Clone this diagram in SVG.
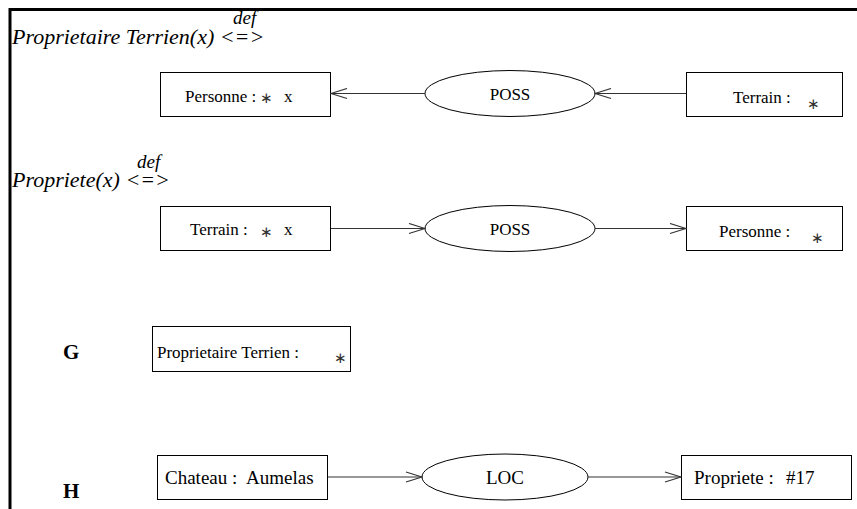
<svg xmlns="http://www.w3.org/2000/svg" width="857" height="509" viewBox="0 0 857 509">
  <style>
    .box { fill: #fff; stroke: #000; stroke-width: 1; }
    .rel { fill: #fff; stroke: #000; stroke-width: 1; }
    .lbl { font-family: "Liberation Serif", "Times New Roman", serif; font-size: 17px; fill: #000; }
    .lbl-h { font-family: "Liberation Serif", "Times New Roman", serif; font-size: 19px; fill: #000; }
    .star { font-family: "DejaVu Sans", sans-serif; font-size: 15px; fill: #333; }
    .mid { text-anchor: middle; }
    .title { font-family: "Liberation Serif", "Times New Roman", serif; font-style: italic; font-size: 22px; fill: #000; }
    .def { font-family: "Liberation Serif", "Times New Roman", serif; font-style: italic; font-size: 19px; fill: #000; }
    .tag { font-family: "Liberation Serif", "Times New Roman", serif; font-weight: bold; font-size: 21px; fill: #000; }
    .edge { fill: none; stroke: #333; stroke-width: 1.2; marker-end: url(#open); }
    .frame { fill: none; stroke: #000; stroke-width: 3; }
  </style>
  <defs>
    <marker id="open" markerUnits="userSpaceOnUse" markerWidth="18" markerHeight="12" refX="17" refY="6" orient="auto">
      <path d="M1,1 L17,6 L1,11" fill="none" stroke="#333" stroke-width="1.2"/>
    </marker>
  </defs>

  <!-- page frame (top and left rules) -->
  <path class="frame" d="M10,509 V9.5 H857"/>

  <!-- definition 1 -->
  <g id="title-proprietaire">
    <text class="title" x="12" y="44">Proprietaire Terrien(x) &lt;=&gt;</text>
    <text class="def" x="233" y="24">def</text>
  </g>
  <g id="n-personne-1">
    <rect class="box" x="160.5" y="72.5" width="170" height="44"/>
    <text class="lbl" x="185" y="102">Personne :</text>
    <text class="star" x="260" y="103">∗</text>
    <text class="lbl" x="284" y="102">x</text>
  </g>
  <g id="n-poss-1">
    <ellipse class="rel" cx="510" cy="93.5" rx="85" ry="23"/>
    <text class="lbl mid" x="510" y="100">POSS</text>
  </g>
  <g id="n-terrain-1">
    <rect class="box" x="686.5" y="72.5" width="156" height="44"/>
    <text class="lbl" x="733" y="103">Terrain :</text>
    <text class="star" x="807" y="109">∗</text>
  </g>

  <!-- definition 2 -->
  <g id="title-propriete">
    <text class="title" x="12" y="187">Propriete(x) &lt;=&gt;</text>
    <text class="def" x="137" y="168">def</text>
  </g>
  <g id="n-terrain-2">
    <rect class="box" x="160.5" y="206.5" width="170" height="44"/>
    <text class="lbl" x="190" y="235">Terrain :</text>
    <text class="star" x="260" y="237">∗</text>
    <text class="lbl" x="284" y="235">x</text>
  </g>
  <g id="n-poss-2">
    <ellipse class="rel" cx="510" cy="228.5" rx="85" ry="23"/>
    <text class="lbl mid" x="510" y="235">POSS</text>
  </g>
  <g id="n-personne-2">
    <rect class="box" x="686.5" y="206.5" width="156" height="44"/>
    <text class="lbl" x="719" y="237">Personne :</text>
    <text class="star" x="811" y="243">∗</text>
  </g>

  <!-- graph G -->
  <g id="n-g">
    <text class="tag" x="63" y="359">G</text>
    <rect class="box" x="152.5" y="326.5" width="198" height="45"/>
    <text class="lbl" x="157" y="358">Proprietaire Terrien  :</text>
    <text class="star" x="334" y="363">∗</text>
  </g>

  <!-- graph H -->
  <g id="n-h">
    <text class="tag" x="63" y="498">H</text>
  </g>
  <g id="n-chateau">
    <rect class="box" x="157.5" y="455.5" width="170" height="44"/>
    <text class="lbl-h" x="165" y="484">Chateau :</text>
    <text class="lbl-h" x="246" y="484">Aumelas</text>
  </g>
  <g id="n-loc">
    <ellipse class="rel" cx="505" cy="477" rx="83" ry="23"/>
    <text class="lbl-h mid" x="505" y="484">LOC</text>
  </g>
  <g id="n-propriete">
    <rect class="box" x="681.5" y="455.5" width="170" height="44"/>
    <text class="lbl-h" x="694" y="484">Propriete :</text>
    <text class="lbl-h" x="786" y="484">#17</text>
  </g>

  <g id="connectors">
    <line class="edge" x1="425" y1="93.5" x2="331" y2="93.5"/>
    <line class="edge" x1="686" y1="93.5" x2="595" y2="93.5"/>
    <line class="edge" x1="331" y1="228.5" x2="425" y2="228.5"/>
    <line class="edge" x1="595" y1="228.5" x2="686" y2="228.5"/>
    <line class="edge" x1="328" y1="477" x2="422" y2="477"/>
    <line class="edge" x1="588" y1="477" x2="681" y2="477"/>
  </g>
</svg>
